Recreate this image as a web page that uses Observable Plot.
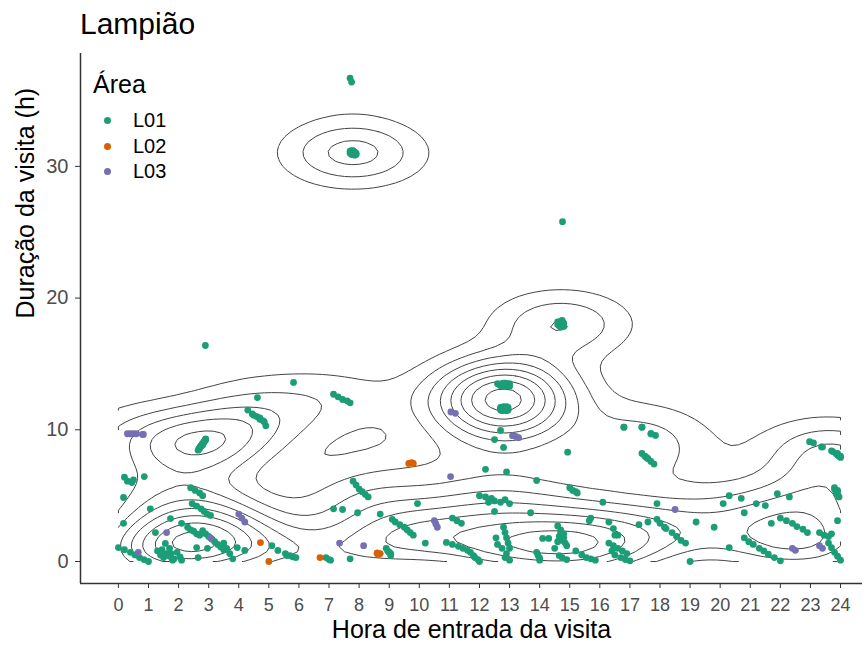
<!DOCTYPE html>
<html><head><meta charset="utf-8">
<script src="https://cdn.jsdelivr.net/npm/d3@7"></script>
<script src="https://cdn.jsdelivr.net/npm/@observablehq/plot@0.6"></script>
<style>
body{margin:0;background:#fff;font-family:"Liberation Sans",Arial,sans-serif;}
#wrap{position:relative;width:866px;height:652px;overflow:hidden;}
#title{position:absolute;left:80px;top:9px;font-size:30px;line-height:30px;color:#000;}
#legend{position:absolute;left:93px;top:72px;color:#000;}
#legend .lt{font-size:25px;line-height:25px;}
#legend .row{position:absolute;left:0;height:26px;font-size:20px;line-height:26px;white-space:nowrap;}
#legend .sw{position:absolute;left:11px;top:10px;width:7px;height:7px;border-radius:50%;}
#legend .lab{position:absolute;left:40px;top:0;}
</style></head>
<body><div id="wrap"><div id="chart"></div><div id="title">Lampião</div><div id="legend"></div></div>
<script>
const areas = ["L01", "L02", "L03"];
const areaColors = ["#1B9E77", "#D95F02", "#7570B3"];
const xTicks = d3.range(0, 25);
const yTicks = [0, 10, 20, 30];
const xTitle = "Hora de entrada da visita";
const yTitle = "Duração da visita (h)";
const legendTitle = "Área";

// L01: scattered visits (hour of entry, duration in h)
const l01Hora = [7.7,7.75,14.76,2.89,5.82,4.62,7.15,7.3,7.45,7.6,7.7,4.3,4.45,4.6,4.7,4.85,4.9,0.2,0.3,0.45,0.5,0.86,12.7,12.5,12.8,14.93,16.8,17.4,17.7,17.85,17.4,17.55,17.7,17.8,12.2,12.9,13.9,22.97,23.37,23.74,23.9,24.0,
0.17,1.06,2.4,2.55,2.7,2.8,2.45,2.6,2.75,2.85,2.95,3.06,1.73,2.1,0.17,1.23,2.3,2.4,2.5,2.6,2.7,2.8,2.9,3.0,3.1,3.2,3.3,3.4,3.5,3.5,3.6,3.7,3.8,3.95,4.2,1.56,1.7,1.75,1.8,1.3,1.4,1.5,1.6,1.7,1.85,1.95,2.05,2.1,1.45,2.6,2.65,2.96,0.0,0.2,0.4,0.55,0.7,0.85,1.0,5.1,5.3,5.6,
5.55,5.7,5.8,5.9,7.8,7.9,8.0,8.1,8.2,8.3,7.15,7.45,7.95,8.7,9.94,9.1,9.2,9.35,9.5,9.6,9.7,9.8,11.1,11.25,11.4,10.2,10.9,11.1,11.3,11.45,11.6,11.8,11.85,11.95,12.0,6.9,7.0,7.05,7.7,8.9,9.0,9.05,
15.0,15.1,15.2,15.25,12.0,12.2,12.4,12.5,12.7,12.85,13.0,12.3,12.5,13.7,16.1,15.7,15.65,16.3,16.45,16.5,17.3,17.6,17.9,18.15,17.9,12.8,12.85,12.9,12.95,13.0,12.9,12.85,13.0,12.55,12.6,12.75,11.7,13.9,13.95,14.0,14.0,14.1,14.3,14.5,14.6,14.7,14.8,14.65,14.75,14.85,14.9,14.6,14.7,14.8,14.65,14.75,14.9,15.2,15.4,15.55,15.7,15.85,16.3,16.45,16.6,16.75,16.9,16.5,16.7,16.85,17.0,16.4,16.6,
18.0,18.2,18.4,18.55,18.7,18.85,19.2,19.8,20.3,20.1,20.7,20.8,20.3,19.0,21.2,21.5,21.9,22.3,21.7,20.8,20.95,21.1,21.3,21.45,21.6,21.8,22.0,22.0,22.2,22.4,22.55,22.75,22.9,23.3,23.45,23.6,23.7,23.6,23.7,23.8,23.9,24.0,23.9,23.8,23.85,23.9,23.95];
const l01Duracao = [36.7,36.4,25.8,16.4,13.6,12.45,12.7,12.5,12.3,12.2,12.05,11.5,11.2,11.0,10.8,10.6,10.3,6.4,6.1,6.0,6.2,6.45,9.95,9.26,8.66,8.3,10.2,10.2,9.7,9.57,8.2,7.9,7.6,7.4,7.0,6.8,6.15,9.1,8.7,8.35,8.1,7.9,
4.86,4.0,5.6,5.4,5.2,5.0,4.4,4.2,4.0,3.8,3.6,3.5,3.26,2.9,2.9,2.2,2.6,2.4,2.3,2.1,2.0,2.35,2.1,1.9,1.7,1.5,1.3,1.1,0.9,1.4,1.0,0.6,0.2,1.06,0.84,1.37,1.0,0.6,0.1,0.8,0.5,0.3,0.6,0.4,0.2,0.7,0.35,0.1,0.9,1.06,0.3,1.0,1.06,0.9,0.7,0.5,0.3,0.15,0.0,1.2,0.84,0.45,
0.6,0.45,0.35,0.3,6.1,5.8,5.5,5.3,5.1,4.9,4.0,3.95,3.7,3.6,4.4,3.2,3.0,2.8,2.6,2.4,2.2,2.0,3.3,3.1,2.9,1.4,1.45,1.3,1.15,1.0,0.85,0.45,0.3,0.15,0.0,0.3,0.15,0.1,0.2,1.0,0.7,0.45,
5.6,5.4,5.3,5.2,5.0,4.9,4.8,4.6,4.5,4.7,4.4,4.5,3.8,3.7,4.5,3.3,3.1,3.0,2.5,2.0,2.8,3.0,3.2,2.6,4.4,2.6,2.2,1.8,1.4,1.0,0.6,0.3,0.1,1.8,1.3,1.0,0.7,0.7,0.45,0.25,0.1,1.75,1.75,1.0,2.7,2.4,2.1,1.9,1.6,1.4,1.2,1.5,2.2,1.8,0.45,0.3,0.15,0.8,0.5,0.3,0.2,0.1,1.4,1.2,1.0,0.8,0.6,0.5,0.3,0.15,0.05,0.8,2.0,
2.9,2.5,2.2,1.9,1.6,1.4,3.0,2.6,5.0,4.4,4.8,3.7,1.06,0.0,4.4,4.25,5.15,4.9,2.9,1.8,1.5,1.3,1.0,0.8,0.55,0.3,0.05,3.3,3.1,2.9,2.65,2.45,2.2,2.2,2.0,1.9,2.1,1.4,1.05,0.7,0.4,0.1,3.1,5.6,5.4,5.1,4.9];
// L01: tight groups of overlapping visits (many records drawn on top of each other)
const l01GrupoHora = [
  7.75,7.8,7.85,7.9,7.8,7.7,7.75,7.8,7.85,7.9,7.75,7.8,7.85,7.8,7.7,
  14.6,14.7,14.8,14.7,14.75,14.65,14.7,14.8,14.75,14.7,14.6,14.8,14.7,
  12.6,12.75,12.9,12.8,13.0,12.7,12.85,12.95,12.65,12.8,12.9,12.75,12.85,12.7,13.0,12.8,12.9,12.75,12.85,12.8,
  12.7,12.85,12.95,12.75,12.9,12.8,12.85,12.7,12.95,12.8,12.9,12.75,12.85,12.8,12.7,12.9,12.8,12.85,12.75,12.95,
  2.9,2.85,2.8,2.75,2.7,2.65,2.88,2.82,2.78,2.72,2.68,2.86,2.8,2.74,2.9,2.84,2.76,2.7,
  23.85,23.9,23.8,23.85,23.9,23.9,23.95,23.85,9.0,8.95,9.05,
  23.4,23.7,23.9,24.0,23.1,17.5,17.6,17.4,17.7,16.8,4.5,4.7,4.8];
const l01GrupoDuracao = [
  31.2,31.1,31.0,30.9,31.0,31.15,31.05,30.95,31.1,31.0,30.9,31.2,30.85,31.05,31.0,
  18.2,18.0,18.1,17.8,18.3,17.9,18.15,17.95,18.05,18.25,18.0,17.85,17.9,
  13.5,13.4,13.45,13.3,13.5,13.35,13.55,13.4,13.45,13.3,13.35,13.5,13.4,13.45,13.3,13.55,13.5,13.35,13.4,13.45,
  11.7,11.6,11.5,11.45,11.75,11.55,11.65,11.5,11.7,11.6,11.45,11.55,11.7,11.5,11.6,11.65,11.75,11.5,11.6,11.55,
  9.3,9.1,8.95,8.8,8.6,8.45,9.2,9.0,8.9,8.7,8.55,9.15,8.85,8.75,9.25,9.05,8.8,8.65,
  5.3,5.4,5.5,5.2,5.3,8.1,8.0,8.2,0.7,0.8,0.6,
  8.7,8.4,8.2,8.0,9.0,8.0,7.8,10.2,9.7,10.2,11.1,10.9,10.7];
// L02
const l02Hora = [9.65,9.8,9.75,4.72,5.0,8.6,8.7,6.7,8.65,8.6];
const l02Duracao = [7.45,7.45,7.5,1.44,0.0,0.6,0.6,0.3,0.55,0.65];
// L03
const l03Hora = [0.3,0.5,0.83,0.4,0.6,0.8,11.04,11.05,11.2,13.1,13.2,13.3,4.0,4.1,4.2,1.6,3.06,0.66,10.5,10.55,10.6,7.35,8.15,18.5,22.4,22.5,23.3,23.4];
const l03Duracao = [9.7,9.7,9.65,9.7,9.7,9.65,6.45,11.35,11.25,9.55,9.5,9.4,3.6,3.3,3.0,2.2,1.8,0.7,3.1,2.85,2.6,1.4,1.2,3.95,1.0,0.85,1.2,1.0];

const series = [[l01Hora, l01Duracao, 0], [l01GrupoHora, l01GrupoDuracao, 0], [l02Hora, l02Duracao, 1], [l03Hora, l03Duracao, 2]];
const points = [];
series.forEach(([hs, ds, k]) => hs.forEach((h, i) => points.push({hora: h, dur: ds[i], area: areas[k]})));

// 2D kernel density (as geom_density_2d / MASS::kde2d) on a 100x100 grid spanning the data range
const N = 100;
const bw = [1.6, 1.75];
const X = points.map(d => d.hora), Y = points.map(d => d.dur);
const xr = d3.extent(X), yr = d3.extent(Y);
const gx = d3.range(N).map(i => xr[0] + i * (xr[1] - xr[0]) / (N - 1));
const gy = d3.range(N).map(j => yr[0] + j * (yr[1] - yr[0]) / (N - 1));
const dn = u => Math.exp(-0.5 * u * u) / Math.sqrt(2 * Math.PI);
const AX = gx.map(g => X.map(x => dn((g - x) / bw[0])));
const AY = gy.map(g => Y.map(y => dn((g - y) / bw[1])));
const values = new Float64Array(N * N);
const norm = points.length * bw[0] * bw[1];
for (let j = 0; j < N; j++) for (let i = 0; i < N; i++) {
  let s = 0; const a = AX[i], b = AY[j];
  for (let k = 0; k < a.length; k++) s += a[k] * b[k];
  values[j * N + i] = s / norm;
}
const zmax = d3.max(values);
const levelStep = zmax / 9.5;
const breaks = d3.range(1, 10).map(k => k * levelStep);
const contours = d3.contours().size([N, N]).thresholds(breaks)(values);

const onB = p => p[0] <= 0 || p[0] >= N || p[1] <= 0 || p[1] >= N;
function ringToLines(ring) {
  const m = ring.length - 1;
  const pts = ring.slice(0, m);
  let start = -1;
  for (let i = 0; i < m; i++) if (onB(pts[i]) && onB(pts[(i + 1) % m])) { start = i + 1; break; }
  if (start < 0) return [ring];
  const lines = []; let cur = [];
  for (let k = 0; k < m; k++) {
    const i = (start + k) % m, j = (i + 1) % m;
    if (onB(pts[i]) && onB(pts[j])) { if (cur.length > 1) lines.push(cur); cur = []; }
    else { if (!cur.length) cur.push(pts[i]); cur.push(pts[j]); }
  }
  if (cur.length > 1) lines.push(cur);
  return lines;
}
const cx = c => xr[0] + (Math.min(Math.max(c, 0.5), N - 0.5) - 0.5) * (xr[1] - xr[0]) / (N - 1);
const cy = c => yr[0] + (Math.min(Math.max(c, 0.5), N - 0.5) - 0.5) * (yr[1] - yr[0]) / (N - 1);
const contourRows = [];
let lid = 0;
contours.forEach(c => c.coordinates.forEach(poly => poly.forEach(ring => {
  ringToLines(ring).forEach(line => { lid++; line.forEach(p => contourRows.push({x: cx(p[0]), y: cy(p[1]), id: lid})); });
})));

const xDomain = [-1.26, 24.73];
const yDomain = [-1.67, 38.57];

const chart = Plot.plot({
  width: 866, height: 652,
  marginLeft: 80, marginRight: 4, marginTop: 53, marginBottom: 69,
  style: {fontFamily: "'Liberation Sans', Arial, sans-serif", background: "#fff"},
  x: {domain: xDomain},
  y: {domain: yDomain},
  color: {domain: areas, range: areaColors},
  marks: [
    Plot.line(contourRows, {x: "x", y: "y", z: "id", stroke: "#444", strokeWidth: 1, curve: "linear"}),
    Plot.dot(points, {x: "hora", y: "dur", fill: "area", r: 3.4}),
    Plot.ruleX([xDomain[0]], {stroke: "#333", strokeWidth: 1.5}),
    Plot.ruleY([yDomain[0]], {stroke: "#333", strokeWidth: 1.5}),
    Plot.axisX({ticks: xTicks, tickSize: 5, tickPadding: 10, fontSize: 18, stroke: "#333", fill: "#4d4d4d", label: null, tickFormat: d => d}),
    Plot.axisY({ticks: yTicks, tickSize: 5, tickPadding: 7, fontSize: 20, stroke: "#333", fill: "#4d4d4d", label: null, tickFormat: d => d}),
    Plot.text([xTitle], {frameAnchor: "bottom", dy: 54, fontSize: 25, fill: "#000", text: d => d}),
    Plot.text([yTitle], {frameAnchor: "left", dx: -55, rotate: -90, fontSize: 25, fill: "#000", text: d => d})
  ]
});
document.getElementById("chart").appendChild(chart);

const leg = document.getElementById("legend");
leg.innerHTML = `<div class="lt">${legendTitle}</div>` + areas.map((a, i) =>
  `<div class="row" style="top:${35 + i * 25.7}px"><span class="sw" style="background:${areaColors[i]}"></span><span class="lab">${a}</span></div>`).join("");
</script>
</body></html>
